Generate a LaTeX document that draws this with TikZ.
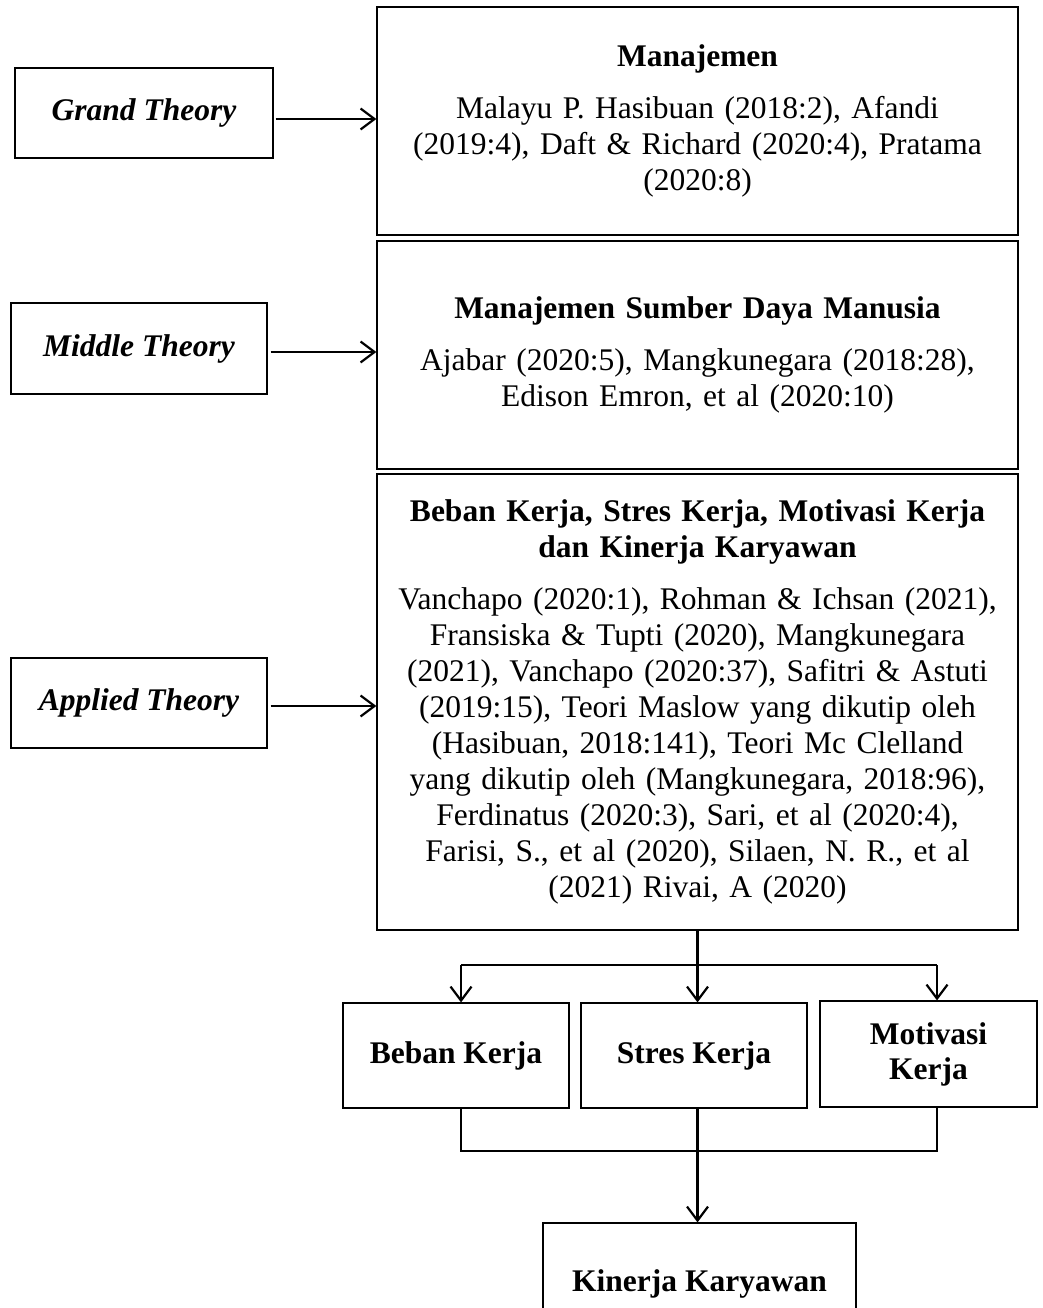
\documentclass[tikz,border=0pt]{standalone}
\usepackage{fontspec}
\setmainfont{Liberation Serif}
\usetikzlibrary{arrows.meta,positioning}

\tikzset{
  box/.style={draw, line width=1.2pt, inner sep=0pt, align=center,
    font=\fontsize{31.5}{36}\selectfont},
  bigbox/.style={box, minimum width=641pt, text width=630pt},
  theorybox/.style={box, minimum width=256pt, minimum height=90pt,
    font=\fontsize{31.5}{36}\selectfont\bfseries\itshape},
  varbox/.style={box, minimum height=105pt, font=\fontsize{31.5}{35}\selectfont\bfseries},
  link/.style={line width=2.2pt, -{Straight Barb[length=14pt,width=21pt,line width=2.2pt]}},
  wire/.style={line width=2.2pt},
}

\begin{document}
\begin{tikzpicture}[x=1pt,y=-1pt]
\useasboundingbox (0,0) rectangle (1043,1308);
\clip (0,0) rectangle (1043,1308);

% theory levels
\node[theorybox, minimum width=258pt] (grand) at (144,113) {Grand Theory};
\node[theorybox, minimum height=91pt] (middle) at (139,348.5) {Middle Theory};
\node[theorybox] (applied) at (139,703) {Applied Theory};

% literature boxes
\node[bigbox, minimum height=228pt] (mgmt) at (697.5,121)
  {\textbf{Manajemen}\\[16pt]
   Malayu P. Hasibuan (2018:2), Afandi\\
   (2019:4), Daft \& Richard (2020:4), Pratama\\
   (2020:8)};
\node[bigbox, minimum height=228pt] (msdm) at (697.5,355)
  {\textbf{Manajemen Sumber Daya Manusia}\\[16pt]
   Ajabar (2020:5), Mangkunegara (2018:28),\\
   Edison Emron, et al (2020:10)};
\node[bigbox, minimum height=456pt] (bkj) at (697.5,702)
  {\textbf{Beban Kerja, Stres Kerja, Motivasi Kerja}\\
   \textbf{dan Kinerja Karyawan}\\[16pt]
   Vanchapo (2020:1), Rohman \& Ichsan (2021),\\
   Fransiska \& Tupti (2020), Mangkunegara\\
   (2021), Vanchapo (2020:37), Safitri \& Astuti\\
   (2019:15), Teori Maslow yang dikutip oleh\\
   (Hasibuan, 2018:141), Teori Mc Clelland\\
   yang dikutip oleh (Mangkunegara, 2018:96),\\
   Ferdinatus (2020:3), Sari, et al (2020:4),\\
   Farisi, S., et al (2020), Silaen, N. R., et al\\
   (2021) Rivai, A (2020)};

\draw[link] ([xshift=2pt,yshift=-6pt]grand.east) -- ([yshift=-6pt]grand.east -| mgmt.west);
\draw[link] ([xshift=3pt,yshift=-3.5pt]middle.east) -- ([yshift=-3.5pt]middle.east -| msdm.west);
\draw[link] ([xshift=3pt,yshift=-3pt]applied.east) -- ([yshift=-3pt]applied.east -| bkj.west);

% variables
\node[varbox, minimum width=226pt] (beban) at (456,1055.5) {Beban Kerja};
\node[varbox, minimum width=226pt] (stres) at (694,1055.5) {Stres Kerja};
\node[varbox, minimum width=217pt, minimum height=106pt] (motiv) at (928.5,1054) {Motivasi\\Kerja};
\node[varbox, minimum width=313pt, minimum height=122pt] (kinerja) at (699.5,1284) {Kinerja Karyawan};

\coordinate (jl) at (461,965);
\coordinate (jr) at (937,965);
\coordinate (ml) at (461,1151);
\coordinate (mr) at (937,1151);

\draw[wire] (bkj.south) -- (bkj.south |- jl);
\draw[wire] (jl) -- (jr);
\draw[link] (jl) -- (jl |- beban.north);
\draw[link] (bkj.south |- jl) -- (bkj.south |- stres.north);
\draw[link] (jr) -- (jr |- motiv.north);

\draw[wire] (ml |- beban.south) -- (ml) -- (mr) -- (mr |- motiv.south);
\draw[link] (bkj.south |- stres.south) -- (bkj.south |- kinerja.north);
\end{tikzpicture}
\end{document}
